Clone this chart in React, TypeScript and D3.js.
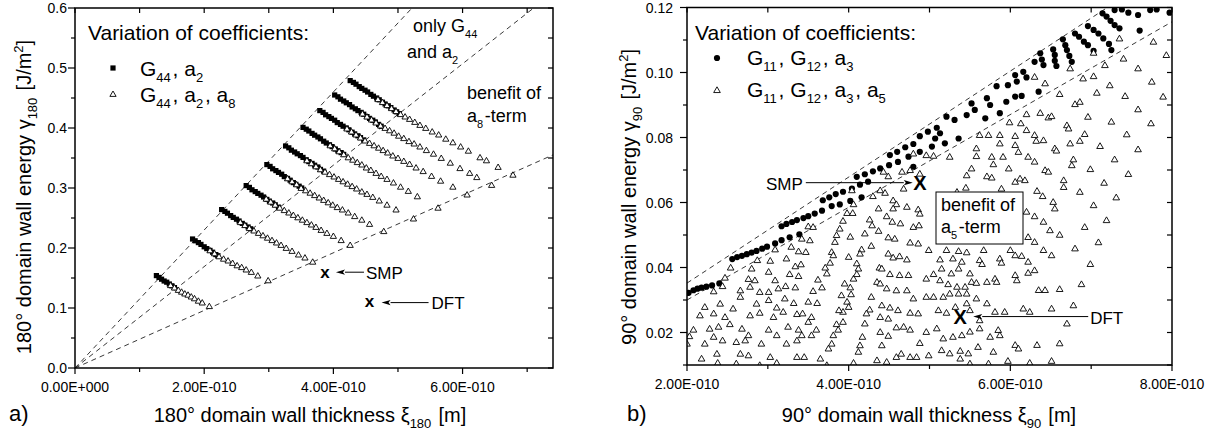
import React from 'react';
import * as d3 from 'd3';

const FONT = "'Liberation Sans', Arial, Helvetica, sans-serif";

// ---- panel a) 180° walls: thickness in 1e-10 m, energy in J/m² ----
// one list per parameter sweep (filled squares: G44, a2)
const g44a2 = [
  [[1.26,.154],[1.30,.151],[1.34,.148],[1.38,.145],[1.42,.143],[1.46,.140],[1.50,.137],[1.54,.134]],
  [[1.82,.215],[1.86,.212],[1.91,.209],[1.95,.206],[2.00,.202],[2.04,.199],[2.09,.196],[2.13,.193],[2.18,.189],[2.21,.187]],
  [[2.27,.264],[2.32,.261],[2.36,.258],[2.41,.254],[2.45,.251],[2.50,.248],[2.54,.245],[2.59,.241],[2.63,.238],[2.68,.235],[2.72,.232]],
  [[2.65,.304],[2.70,.301],[2.74,.297],[2.79,.294],[2.83,.291],[2.88,.288],[2.92,.285],[2.97,.281],[3.01,.278],[3.06,.275],[3.10,.272],[3.15,.268]],
  [[2.97,.339],[3.02,.336],[3.06,.332],[3.11,.329],[3.15,.326],[3.20,.323],[3.24,.319],[3.29,.316],[3.33,.313],[3.38,.309],[3.42,.306],[3.47,.303],[3.51,.300]],
  [[3.26,.370],[3.31,.367],[3.35,.363],[3.40,.360],[3.44,.357],[3.49,.354],[3.53,.351],[3.58,.347],[3.62,.344],[3.67,.341],[3.71,.338],[3.76,.335],[3.80,.331],[3.85,.328]],
  [[3.53,.401],[3.58,.398],[3.62,.395],[3.67,.391],[3.71,.388],[3.76,.385],[3.80,.382],[3.85,.378],[3.89,.375],[3.94,.372],[3.98,.369],[4.03,.365],[4.07,.362],[4.12,.359],[4.16,.356]],
  [[3.79,.429],[3.84,.426],[3.88,.422],[3.93,.419],[3.97,.416],[4.02,.413],[4.06,.409],[4.11,.406],[4.15,.403],[4.20,.400],[4.24,.397],[4.29,.393],[4.33,.390],[4.38,.387],[4.42,.384],[4.47,.380]],
  [[4.02,.455],[4.07,.452],[4.11,.448],[4.16,.445],[4.20,.442],[4.25,.439],[4.29,.435],[4.34,.432],[4.38,.429],[4.43,.426],[4.47,.423],[4.52,.419],[4.56,.416],[4.61,.413],[4.65,.410],[4.70,.406],[4.74,.403]],
  [[4.26,.479],[4.31,.476],[4.35,.473],[4.40,.469],[4.44,.466],[4.49,.463],[4.53,.460],[4.58,.456],[4.62,.453],[4.67,.450],[4.71,.447],[4.76,.443],[4.80,.440],[4.85,.437],[4.89,.434],[4.94,.430],[4.98,.427],[5.02,.424]],
];

// open triangles: G44, a2, a8
const g44a2a8 = [
  [[1.48,.138],[1.54,.134],[1.60,.130],[1.65,.127],[1.70,.124],[1.75,.122],[1.80,.119],[1.85,.116],[1.91,.112],[1.97,.109],[2.08,.103]],
  [[2.09,.196],[2.16,.191],[2.23,.186],[2.30,.182],[2.37,.179],[2.44,.175],[2.51,.171],[2.58,.168],[2.65,.164],[2.73,.160],[2.83,.154],[2.99,.146]],
  [[2.56,.243],[2.63,.238],[2.70,.233],[2.77,.229],[2.84,.225],[2.91,.221],[2.98,.217],[3.05,.213],[3.12,.209],[3.19,.205],[3.27,.200],[3.36,.195],[3.46,.189],[3.56,.184],[3.68,.177]],
  [[2.96,.282],[3.03,.277],[3.10,.272],[3.17,.267],[3.24,.263],[3.31,.259],[3.38,.255],[3.45,.251],[3.52,.247],[3.59,.243],[3.66,.239],[3.73,.235],[3.81,.230],[3.90,.225],[4.00,.220],[4.12,.213],[4.26,.205]],
  [[3.29,.316],[3.36,.311],[3.43,.306],[3.50,.300],[3.57,.296],[3.64,.292],[3.71,.288],[3.78,.284],[3.85,.280],[3.92,.276],[3.99,.272],[4.06,.268],[4.14,.264],[4.23,.259],[4.33,.253],[4.44,.247],[4.56,.240],[4.78,.228]],
  [[3.59,.346],[3.66,.341],[3.73,.336],[3.80,.331],[3.87,.327],[3.94,.323],[4.01,.319],[4.08,.315],[4.15,.311],[4.22,.307],[4.29,.303],[4.36,.299],[4.44,.294],[4.52,.290],[4.61,.285],[4.71,.279],[4.83,.272],[4.97,.264],[5.24,.249]],
  [[3.95,.371],[4.02,.366],[4.09,.361],[4.16,.356],[4.23,.351],[4.30,.347],[4.37,.343],[4.44,.339],[4.51,.334],[4.58,.330],[4.66,.325],[4.74,.320],[4.83,.315],[4.93,.309],[5.04,.302],[5.16,.295],[5.30,.286],[5.62,.267]],
  [[4.21,.399],[4.28,.394],[4.35,.389],[4.42,.384],[4.49,.379],[4.56,.375],[4.63,.371],[4.70,.367],[4.77,.363],[4.84,.359],[4.92,.354],[5.00,.350],[5.09,.345],[5.18,.340],[5.28,.334],[5.39,.328],[5.52,.320],[5.66,.312],[5.85,.302],[6.07,.289]],
  [[4.45,.424],[4.52,.419],[4.59,.414],[4.66,.409],[4.73,.404],[4.80,.400],[4.87,.396],[4.94,.392],[5.01,.387],[5.09,.383],[5.17,.378],[5.25,.374],[5.34,.369],[5.44,.363],[5.55,.357],[5.67,.350],[5.81,.342],[5.96,.333],[6.11,.325],[6.22,.318],[6.45,.305]],
  [[4.69,.448],[4.76,.443],[4.83,.438],[4.90,.433],[4.97,.428],[5.04,.423],[5.11,.419],[5.18,.415],[5.26,.410],[5.34,.405],[5.43,.400],[5.53,.394],[5.63,.389],[5.74,.382],[5.85,.376],[5.97,.369],[6.09,.362],[6.27,.351],[6.37,.346],[6.55,.335],[6.78,.322]],
];

const leftGuideSlopes = [0.115, 0.0845, 0.048]; // dashed lines through origin
const leftSMP = [3.87, 0.158];
const leftDFT = [4.56, 0.109];
const leftXLabels = [0, 2, 4, 6];
const leftYLabels = [0, 0.1, 0.2, 0.3, 0.4, 0.5, 0.6];

// ---- panel b) 90° walls ----
const g11g12a3 = [
  [2.02,0.0322],[2.08,0.0330],[2.13,0.0335],[2.18,0.0338],[2.24,0.0341],[2.31,0.0345],[2.40,0.0351],
  [2.56,0.0426],[2.62,0.0432],[2.68,0.0436],[2.74,0.0441],[2.80,0.0446],[2.86,0.0451],[2.93,0.0458],[2.99,0.0464],[3.09,0.0474],[3.17,0.0484],[3.27,0.0493],[3.39,0.0502],
  [3.17,0.0527],[3.23,0.0534],[3.30,0.0540],[3.36,0.0546],[3.44,0.0552],[3.50,0.0558],[3.58,0.0566],[3.67,0.0575],
  [3.79,0.0589],[3.89,0.0594],[4.02,0.0605],[4.16,0.0616],
  [3.68,0.0607],[3.76,0.0616],[3.84,0.0626],[3.93,0.0633],[4.04,0.0643],[4.14,0.0655],[4.24,0.0664],
  [4.10,0.0679],[4.20,0.0687],[4.30,0.0696],[4.39,0.0705],[4.50,0.0715],[4.61,0.0725],[4.74,0.0741],
  [4.51,0.0746],[4.60,0.0756],[4.70,0.0770],[4.80,0.0780],[4.88,0.0804],[4.98,0.0818],[5.09,0.0830],
  [4.80,0.0710],[4.88,0.0756],[5.03,0.0772],[5.07,0.0797],[5.13,0.0813],[5.19,0.0782],[5.21,0.0864],[5.31,0.0854],
  [5.36,0.0797],[5.46,0.0869],[5.52,0.0905],[5.56,0.0885],[5.69,0.0859],[5.71,0.0921],[5.75,0.0900],[5.87,0.0875],
  [5.95,0.0910],[6.06,0.0926],[6.14,0.0928],[6.35,0.0941],
  [5.83,0.0958],[5.97,0.0961],[6.06,0.0992],[6.08,0.0972],[6.16,0.1002],[6.20,0.0985],[6.30,0.1033],[6.37,0.1059],
  [6.39,0.1040],[6.41,0.1023],[6.53,0.1071],[6.55,0.1054],[6.55,0.1036],[6.57,0.1020],[6.65,0.1102],[6.68,0.1084],
  [6.70,0.1069],[6.73,0.1051],[6.76,0.1033],[6.80,0.1120],[6.85,0.1110],[6.91,0.1095],[6.96,0.1084],[7.03,0.1067],
  [6.96,0.1143],[7.03,0.1131],[7.09,0.1120],[7.15,0.1105],[7.22,0.1088],[7.25,0.1069],[7.14,0.1182],[7.19,0.1172],
  [7.24,0.1159],[7.29,0.1146],[7.35,0.1136],[7.29,0.1192],[7.38,0.1194],[7.46,0.1184],[7.58,0.1177],[7.60,0.1129],
  [7.73,0.1192],[7.81,0.1194],[7.97,0.1184],
];

const g11g12a3a5 = [
  [4.04,0.0638],[4.45,0.0630],[4.30,0.0620],[4.55,0.0607],[4.59,0.0595],[4.72,0.0587],[4.86,0.0579],[4.88,0.0566],
  [4.06,0.0595],[3.98,0.0568],[4.05,0.0568],[4.37,0.0582],[4.55,0.0582],
  [3.93,0.0544],[4.26,0.0548],[4.47,0.0558],[4.54,0.0541],[4.64,0.0536],[4.80,0.0525],[4.87,0.0530],
  [3.50,0.0527],[3.56,0.0525],[3.89,0.0520],[4.29,0.0530],[4.20,0.0505],[4.37,0.0513],[4.49,0.0493],[4.57,0.0489],[4.76,0.0477],[4.86,0.0474],[4.99,0.0454],
  [3.42,0.0489],[3.52,0.0484],[3.85,0.0500],[3.83,0.0479],[4.28,0.0467],[4.49,0.0443],[4.63,0.0435],[4.72,0.0425],
  [3.09,0.0456],[3.29,0.0464],[3.38,0.0450],[3.47,0.0448],[3.79,0.0448],[3.81,0.0438],[4.16,0.0456],[4.14,0.0443],[4.38,0.0400],[4.55,0.0431],
  [2.54,0.0400],[2.80,0.0397],[2.87,0.0423],[3.03,0.0421],[3.23,0.0428],[3.34,0.0404],[3.41,0.0410],[3.71,0.0400],[3.77,0.0415],[4.10,0.0413],[4.12,0.0397],[4.41,0.0397],[4.51,0.0380],[4.63,0.0377],[4.74,0.0377],
  [2.47,0.0369],[2.76,0.0365],[2.84,0.0361],[3.01,0.0387],[3.09,0.0361],[3.27,0.0380],[3.38,0.0374],[3.62,0.0363],[3.73,0.0382],[4.06,0.0366],[4.10,0.0380],[4.35,0.0356],[4.39,0.0351],[4.59,0.0330],[4.96,0.0366],
  [2.33,0.0327],[2.44,0.0343],[2.66,0.0330],[2.78,0.0341],[2.90,0.0325],[3.01,0.0325],[3.13,0.0336],[3.22,0.0343],[3.34,0.0339],[3.56,0.0328],[3.67,0.0339],[4.02,0.0339],[4.03,0.0318],[4.28,0.0310],[4.47,0.0336],[4.72,0.0330],[4.80,0.0305],[4.96,0.0310],
  [2.22,0.0279],[2.41,0.0289],[2.57,0.0274],[2.66,0.0310],[2.86,0.0289],[3.01,0.0300],[3.11,0.0277],[3.21,0.0305],[3.32,0.0291],[3.50,0.0295],[3.61,0.0291],[3.98,0.0295],[4.00,0.0279],[4.26,0.0271],[4.41,0.0284],[4.51,0.0277],[4.61,0.0269],[4.76,0.0261],[4.86,0.0259],
  [2.16,0.0253],[2.33,0.0259],[2.47,0.0248],[2.53,0.0226],[2.78,0.0253],[2.90,0.0261],[3.07,0.0248],[3.19,0.0264],[3.36,0.0257],[3.43,0.0259],[3.54,0.0248],[3.93,0.0264],[3.93,0.0233],[4.22,0.0259],[4.20,0.0228],[4.39,0.0248],[4.49,0.0243],[4.59,0.0216],[4.68,0.0218],[4.76,0.0209],[4.96,0.0202],
  [2.08,0.0209],[2.28,0.0212],[2.39,0.0218],[2.68,0.0212],[2.76,0.0192],[3.01,0.0209],[3.11,0.0192],[3.25,0.0218],[3.38,0.0209],[3.50,0.0233],[3.60,0.0209],[3.85,0.0226],[3.87,0.0209],[4.17,0.0187],[4.39,0.0202],[4.49,0.0190],[4.88,0.0168],
  [2.03,0.0189],[2.00,0.0166],[2.22,0.0166],[2.33,0.0187],[2.44,0.0176],[2.61,0.0171],[2.72,0.0176],[2.92,0.0166],[3.23,0.0166],[3.36,0.0176],[3.42,0.0192],[3.54,0.0192],[3.81,0.0192],[3.79,0.0166],[4.14,0.0161],[4.41,0.0161],[4.65,0.0135],[4.76,0.0125],
  [2.18,0.0120],[2.37,0.0135],[2.38,0.0107],[2.61,0.0105],[2.66,0.0135],[2.76,0.0130],[2.90,0.0100],[3.03,0.0125],[3.11,0.0107],[3.36,0.0125],[3.45,0.0125],[3.65,0.0120],[3.73,0.0100],[4.06,0.0107],[4.12,0.0141],[4.35,0.0115],[4.47,0.0110],[4.59,0.0125],[4.84,0.0125],[4.99,0.0130],
  [3.91,0.0315],[3.95,0.0351],[4.00,0.0433],[4.02,0.0495],[3.88,0.0269],[3.75,0.0151],
  [4.80,0.0751],[4.96,0.0746],[4.43,0.0695],[4.49,0.0681],[4.66,0.0695],[4.76,0.0700],[4.88,0.0689],[4.39,0.0638],[4.68,0.0643],
  [6.61,0.0934],[7.07,0.0938],[7.42,0.0928],[7.89,0.0926],[6.80,0.0903],[6.86,0.0910],[7.58,0.0887],
  [6.20,0.0872],[6.37,0.0876],[6.47,0.0862],[6.51,0.0866],[6.70,0.0838],[6.72,0.0828],[6.96,0.0864],[7.25,0.0849],[7.74,0.0844],[5.99,0.0847],[6.13,0.0844],[6.20,0.0823],
  [5.62,0.0808],[5.73,0.0808],[5.87,0.0808],[6.06,0.0805],[6.30,0.0808],[6.32,0.0790],[6.41,0.0792],[6.55,0.0767],[6.57,0.0760],[6.74,0.0782],[6.92,0.0811],[6.86,0.0790],[7.11,0.0774],[7.44,0.0810],[7.58,0.0764],[5.87,0.0782],[6.06,0.0777],[6.10,0.0756],
  [5.52,0.0705],[5.58,0.0743],[5.77,0.0741],[5.79,0.0718],[5.91,0.0741],[5.98,0.0705],[6.22,0.0741],[6.30,0.0726],[6.43,0.0700],[6.47,0.0695],[6.66,0.0669],[6.76,0.0715],[6.78,0.0733],[6.99,0.0703],[7.29,0.0733],[7.46,0.0688],[5.46,0.0684],[5.71,0.0681],[5.77,0.0677],[5.89,0.0643],[6.06,0.0664],[6.12,0.0674],[6.18,0.0669],
  [6.66,0.0648],[7.16,0.0661],[7.31,0.0616],[6.86,0.0633],[7.03,0.0592],[5.45,0.0646],[5.34,0.0633],[6.33,0.0636],[6.40,0.0620],[6.53,0.0602],[6.55,0.0582],
  [6.20,0.0572],[6.30,0.0558],[6.41,0.0541],[6.49,0.0515],[6.61,0.0501],[6.92,0.0525],[7.09,0.0478],[7.19,0.0546],[6.22,0.0494],[6.30,0.0479],
  [5.21,0.0454],[5.36,0.0451],[5.46,0.0447],[5.67,0.0454],[6.00,0.0454],[6.14,0.0436],[6.22,0.0418],[6.41,0.0454],[6.51,0.0438],[6.80,0.0459],[6.99,0.0411],[5.13,0.0425],[5.29,0.0428],[5.40,0.0418],[5.62,0.0423],[5.65,0.0411],[5.87,0.0428],[5.89,0.0415],[6.06,0.0438],
  [5.15,0.0397],[5.27,0.0382],[5.36,0.0397],[5.50,0.0382],[5.52,0.0356],[5.58,0.0353],[5.71,0.0356],[5.81,0.0366],[5.83,0.0356],[6.06,0.0377],[6.08,0.0361],[6.22,0.0384],[6.30,0.0392],[6.35,0.0331],[6.43,0.0331],[6.61,0.0334],[6.88,0.0349],[5.05,0.0380],[5.13,0.0361],[5.23,0.0349],[5.34,0.0341],[5.44,0.0341],
  [5.05,0.0310],[5.17,0.0310],[5.25,0.0320],[5.36,0.0320],[5.46,0.0320],[5.58,0.0305],[5.71,0.0290],[5.81,0.0264],[5.93,0.0264],[6.16,0.0274],[6.24,0.0264],[6.51,0.0274],[6.78,0.0284],[6.70,0.0228],[5.11,0.0269],[5.21,0.0261],[5.32,0.0279],[5.50,0.0269],[5.62,0.0238],[5.46,0.0290],
  [5.09,0.0213],[5.17,0.0182],[5.29,0.0187],[5.40,0.0192],[5.50,0.0203],[5.60,0.0156],[5.62,0.0213],[5.85,0.0208],[5.87,0.0192],[5.75,0.0187],[6.06,0.0162],[6.10,0.0151],[6.33,0.0162],[6.61,0.0167],[5.15,0.0146],[5.25,0.0136],[5.38,0.0144],[5.48,0.0136],[5.79,0.0141],[5.97,0.0113],[6.24,0.0107],[6.51,0.0113],[5.73,0.0105],[5.50,0.0105],[5.38,0.0120],
  [5.05,0.0744],[5.25,0.0741],[5.58,0.0767],
  [7.35,0.1105],[7.77,0.1095],[7.93,0.1054],[7.03,0.1061],[7.17,0.1023],[7.40,0.1043],[7.58,0.1013],[7.75,0.0972],[6.90,0.0982],[7.03,0.0989],[7.23,0.0961],[6.74,0.1013],[6.30,0.0987],[6.43,0.0967],
];

const rightGuides = [[2.0, 0.0352, 7.2, 0.12], [2.0, 0.030, 8.0, 0.1156]];
const rightSMP = [4.88, 0.0661];
const rightDFT = [5.38, 0.0249];
const rightXLabels = [2, 4, 6, 8];
const rightYLabels = [0.02, 0.04, 0.06, 0.08, 0.10, 0.12];

// "2.00E-010" style, input in units of 1e-10 m
const sci = (v: number) => {
  if (v === 0) return '0.00E+000';
  const real = v * 1e-10;
  const e = Math.floor(Math.log10(real) + 1e-9);
  const m = real / Math.pow(10, e);
  return `${m.toFixed(2)}E${e < 0 ? '-' : '+'}${String(Math.abs(e)).padStart(3, '0')}`;
};

const triPath = (x: number, y: number, w = 6.4) =>
  `M${x},${y - w * 0.5}L${x + w * 0.52},${y + w * 0.4}L${x - w * 0.52},${y + w * 0.4}Z`;

const Sub = ({ children, size = 13 }: any) => (
  <>
    <tspan fontSize={size} dy={6}>{children}</tspan>
    <tspan dy={-6}>{'\u200A'}</tspan>
  </>
);

function Frame({ x, y, xTicks, yTicks, xLabels, yLabels, xFmt, yFmt, yLabelGap }: any) {
  const [x0, x1] = x.range();
  const [y0, y1] = y.range();
  const near = (a: number, list: number[]) => list.some(b => Math.abs(a - b) < 1e-6);
  return (
    <g stroke="#000" fill="none">
      {xTicks.map((v: number, i: number) => (
        <g key={'x' + i}>
          <line x1={x(v)} x2={x(v)} y1={y0} y2={y0 + (near(v, xLabels) ? 6 : 4)} strokeWidth={1.2} />
          <line x1={x(v)} x2={x(v)} y1={y1} y2={y1 + 5} strokeWidth={1.2} />
        </g>
      ))}
      {yTicks.map((v: number, i: number) => (
        <g key={'y' + i}>
          <line x1={x0} x2={x0 - (near(v, yLabels) ? 7 : 4)} y1={y(v)} y2={y(v)} strokeWidth={1.2} />
          <line x1={x1} x2={x1 - 5} y1={y(v)} y2={y(v)} strokeWidth={1.2} />
        </g>
      ))}
      <rect x={x0} y={y1} width={x1 - x0} height={y0 - y1} strokeWidth={1.5} />
      <g stroke="none" fill="#000" fontSize={14} fontFamily={FONT}>
        {xLabels.map((v: number, i: number) => (
          <text key={'xl' + i} x={x(v)} y={y0 + 24} textAnchor="middle">{xFmt(v)}</text>
        ))}
        {yLabels.map((v: number, i: number) => (
          <text key={'yl' + i} x={x0 - yLabelGap} y={y(v)} dy="0.36em" textAnchor="end">{yFmt(v)}</text>
        ))}
      </g>
    </g>
  );
}

const Arrow = ({ from, tip }: any) => {
  const dir = Math.sign(tip - from);
  const base = tip - dir * 9;
  return (
    <g>
      <line x1={from[0]} x2={base} y1={0} y2={0} />
    </g>
  );
};

function hArrow(xFrom: number, xTip: number, y: number, key: string) {
  const dir = Math.sign(xTip - xFrom);
  const base = xTip - dir * 9;
  return (
    <g key={key}>
      <line x1={xFrom} x2={base} y1={y} y2={y} stroke="#000" strokeWidth={1} />
      <path d={`M${xTip},${y}L${base},${y - 2.6}L${base + dir * 2},${y}L${base},${y + 2.6}Z`} fill="#000" />
    </g>
  );
}

export default function App() {
  const lx = d3.scaleLinear().domain([0, 7.4]).range([75, 553]);
  const ly = d3.scaleLinear().domain([0, 0.6]).range([368, 8]);
  const rx = d3.scaleLinear().domain([2, 8]).range([687, 1172]);
  const ry = d3.scaleLinear().domain([0.01, 0.12]).range([365, 7.5]);

  const leftXTicks = d3.range(0, 8).map(i => i);
  const leftYTicks = d3.range(0, 13).map(i => i * 0.05);
  const rightXTicks = d3.range(2, 9).map(i => i);
  const rightYTicks = d3.range(1, 13).map(i => i / 100);

  const lSmp = [lx(leftSMP[0]), ly(leftSMP[1])];
  const lDft = [lx(leftDFT[0]), ly(leftDFT[1])];
  const rSmp = [rx(rightSMP[0]), ry(rightSMP[1])];
  const rDft = [rx(rightDFT[0]), ry(rightDFT[1])];

  const titleSize = 20;

  return (
    <svg width={1232} height={435} viewBox="0 0 1232 435"
      style={{ position: 'absolute', left: 0, top: 0, background: '#fff' }}
      fontFamily={FONT}>
      <defs>
        <clipPath id="clipL"><rect x={75} y={8} width={478} height={360} /></clipPath>
        <clipPath id="clipR"><rect x={687} y={7.5} width={485} height={357.5} /></clipPath>
      </defs>
      <rect width={1232} height={435} fill="#fff" />

      {/* ---------- panel a ---------- */}
      <g clipPath="url(#clipL)">
        {leftGuideSlopes.map((s, i) => {
          const xe = Math.min(7.4, 0.6 / s);
          return <line key={i} x1={lx(0)} y1={ly(0)} x2={lx(xe)} y2={ly(s * xe)}
            stroke="#222" strokeWidth={0.9} strokeDasharray="5,4" />;
        })}
        {g44a2.map((seg, i) => seg.map((p, j) => (
          <rect key={`s${i}-${j}`} x={lx(p[0]) - 2.6} y={ly(p[1]) - 2.6} width={5.2} height={5.2} fill="#000" />
        )))}
        {g44a2a8.map((seg, i) => seg.map((p, j) => (
          <path key={`t${i}-${j}`} d={triPath(lx(p[0]), ly(p[1]), 6)} fill="#fff" stroke="#000" strokeWidth={0.9} />
        )))}
      </g>
      <Frame x={lx} y={ly} xTicks={leftXTicks} yTicks={leftYTicks} xLabels={leftXLabels} yLabels={leftYLabels}
        xFmt={sci} yFmt={d3.format('.1f')} yLabelGap={8} />

      {/* legend a */}
      <text x={88} y={40} fontSize={21}>Variation of coefficients:</text>
      <rect x={110.4} y={65.4} width={5.2} height={5.2} fill="#000" />
      <text x={140} y={76} fontSize={21}>G<Sub>44</Sub>, a<Sub>2</Sub></text>
      <path d={triPath(113, 94, 6)} fill="#fff" stroke="#000" strokeWidth={0.9} />
      <text x={140} y={102} fontSize={21}>G<Sub>44</Sub>, a<Sub>2</Sub>, a<Sub>8</Sub></text>

      <text x={413} y={32} fontSize={18}>only G<Sub size={11}>44</Sub></text>
      <text x={407} y={58} fontSize={18}>and a<Sub size={11}>2</Sub></text>
      <text x={467} y={99} fontSize={18}>benefit of</text>
      <text x={467} y={122} fontSize={18}>a<Sub size={11}>8</Sub>-term</text>

      <text x={lSmp[0]} y={lSmp[1] + 4.5} fontSize={17} fontWeight="bold" textAnchor="middle">x</text>
      {hArrow(lSmp[0] + 39, lSmp[0] + 11, lSmp[1] - 1, 'as')}
      <text x={lSmp[0] + 41} y={lSmp[1] + 6} fontSize={17}>SMP</text>
      <text x={lDft[0]} y={lDft[1] + 4.5} fontSize={17} fontWeight="bold" textAnchor="middle">x</text>
      {hArrow(lDft[0] + 59, lDft[0] + 12, lDft[1], 'ad')}
      <text x={lDft[0] + 62} y={lDft[1] + 6} fontSize={17}>DFT</text>

      <text transform="translate(31,197) rotate(-90)" textAnchor="middle" fontSize={titleSize}>
        180° domain wall energy γ<Sub>180</Sub> [J/m<tspan fontSize={13} dy={-8}>2</tspan><tspan dy={8}>]</tspan>
      </text>
      <text x={310} y={422} textAnchor="middle" fontSize={titleSize}>
        180° domain wall thickness ξ<Sub>180</Sub> [m]
      </text>
      <text x={9} y={421} fontSize={22}>a)</text>

      {/* ---------- panel b ---------- */}
      <g clipPath="url(#clipR)">
        {rightGuides.map((g, i) => (
          <line key={i} x1={rx(g[0])} y1={ry(g[1])} x2={rx(g[2])} y2={ry(g[3])}
            stroke="#222" strokeWidth={0.9} strokeDasharray="5,4" />
        ))}
        {g11g12a3.map((p, i) => (
          <circle key={'c' + i} cx={rx(p[0])} cy={ry(p[1])} r={3.1} fill="#000" />
        ))}
        {g11g12a3a5.map((p, i) => (
          <path key={'r' + i} d={triPath(rx(p[0]), ry(p[1]), 6.4)} fill="#fff" stroke="#000" strokeWidth={0.9} />
        ))}
      </g>
      <Frame x={rx} y={ry} xTicks={rightXTicks} yTicks={rightYTicks} xLabels={rightXLabels} yLabels={rightYLabels}
        xFmt={sci} yFmt={d3.format('.2f')} yLabelGap={14} />

      <text x={695} y={40} fontSize={21}>Variation of coefficients:</text>
      <circle cx={717} cy={58} r={3.1} fill="#000" />
      <text x={747} y={65} fontSize={21}>G<Sub>11</Sub>, G<Sub>12</Sub>, a<Sub>3</Sub></text>
      <path d={triPath(717, 90, 6.4)} fill="#fff" stroke="#000" strokeWidth={0.9} />
      <text x={747} y={97} fontSize={21}>G<Sub>11</Sub>, G<Sub>12</Sub>, a<Sub>3</Sub>, a<Sub>5</Sub></text>

      <rect x={936} y={192} width={87} height={52} fill="#fff" stroke="#000" strokeWidth={1} />
      <text x={941} y={211} fontSize={18}>benefit of</text>
      <text x={941} y={233} fontSize={18}>a<Sub size={11}>5</Sub>-term</text>

      <text x={rSmp[0]} y={rSmp[1] + 7} fontSize={20} fontWeight="bold" textAnchor="middle">X</text>
      {hArrow(rSmp[0] - 114, rSmp[0] - 7, rSmp[1], 'bs')}
      <text x={rSmp[0] - 117} y={rSmp[1] + 7} fontSize={17} textAnchor="end">SMP</text>
      <text x={rDft[0]} y={rDft[1] + 7} fontSize={20} fontWeight="bold" textAnchor="middle">X</text>
      {hArrow(rDft[0] + 128, rDft[0] + 13, rDft[1], 'bd')}
      <text x={rDft[0] + 130} y={rDft[1] + 7} fontSize={17}>DFT</text>

      <text transform="translate(636,197) rotate(-90)" textAnchor="middle" fontSize={titleSize}>
        90° domain wall energy γ<Sub>90</Sub> [J/m<tspan fontSize={13} dy={-8}>2</tspan><tspan dy={8}>]</tspan>
      </text>
      <text x={929} y={422} textAnchor="middle" fontSize={titleSize}>
        90° domain wall thickness ξ<Sub>90</Sub> [m]
      </text>
      <text x={627} y={421} fontSize={22}>b)</text>
    </svg>
  );
}
